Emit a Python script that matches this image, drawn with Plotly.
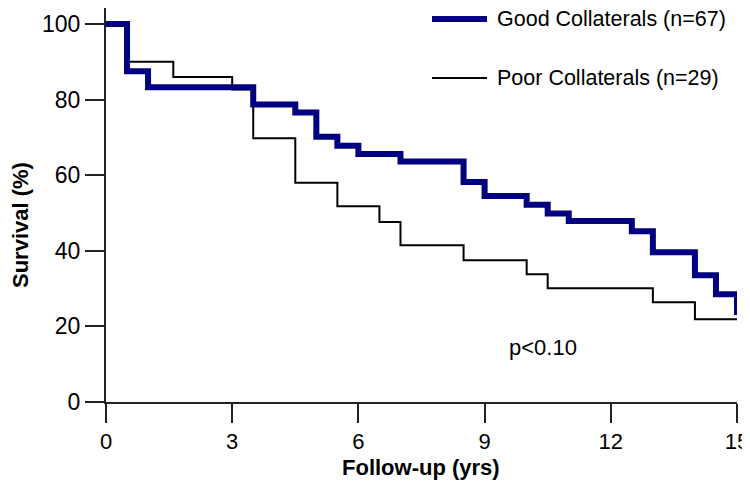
import plotly.graph_objects as go

# Kaplan-Meier step data
good_t = [0, 0.5, 1.0, 3.5, 4.5, 5.0, 5.5, 6.0, 7.0, 8.5, 9.0, 10.0, 10.5, 11.0, 12.5, 13.0, 14.0, 14.5, 15.0]
good_s = [100, 87.5, 83.3, 78.7, 76.6, 70.2, 67.8, 65.6, 63.6, 58.2, 54.5, 52.2, 49.9, 47.9, 45.2, 39.6, 33.5, 28.5, 23.0]

poor_t = [0, 0.5, 1.6, 3.0, 3.5, 4.5, 5.5, 6.5, 7.0, 8.5, 10.0, 10.5, 13.0, 14.0, 15.0]
poor_s = [100, 90.0, 86.0, 82.7, 69.8, 58.0, 51.8, 47.6, 41.5, 37.5, 33.8, 30.1, 26.4, 21.9, 21.9]

x_ticks = [0, 3, 6, 9, 12, 15]
y_ticks = [0, 20, 40, 60, 80, 100]

series_names = ["Good Collaterals (n=67)", "Poor Collaterals (n=29)"]
p_text = "p<0.10"

FONT = "Liberation Sans, Arial, sans-serif"
NAVY = "#000080"

# page body has an 8px margin: the figure is placed at (8, 8) in the window
OFF = 8
W, H = 750 - OFF, 487 - OFF
L, R, T, B = 106 - OFF, 13, 0, 85
pw, ph = W - L - R, H - T - B

def px(x):  # screen x -> paper
    return (x - OFF - L) / pw

def py(y):  # screen y -> paper
    return (H - B - (y - OFF)) / ph

fig = go.Figure()
fig.add_trace(go.Scatter(x=poor_t, y=poor_s, mode="lines", line=dict(shape="hv", color="black", width=2),
                         name=series_names[1], showlegend=False))
fig.add_trace(go.Scatter(x=good_t, y=good_s, mode="lines", line=dict(shape="hv", color=NAVY, width=6),
                         name=series_names[0], showlegend=False))

# manual legend
legend_rows = [(series_names[0], NAVY, 6, 19), (series_names[1], "black", 2, 78)]
for name, col, w, yy in legend_rows:
    fig.add_shape(type="line", xref="paper", yref="paper", x0=px(432), x1=px(487), y0=py(yy), y1=py(yy),
                  line=dict(color=col, width=w))
    fig.add_annotation(xref="paper", yref="paper", x=px(496), y=py(yy), text=name, showarrow=False,
                       xanchor="left", yanchor="middle", borderpad=0,
                       font=dict(family=FONT, size=21.5, color="black"))

fig.add_annotation(x=10.4, y=14.5, text=p_text, showarrow=False, xanchor="center", yanchor="middle",
                   font=dict(family=FONT, size=22, color="black"))

# axis titles
fig.add_annotation(xref="paper", yref="paper", x=px(421), y=py(467), text="<b>Follow-up (yrs)</b>",
                   showarrow=False, xanchor="center", yanchor="middle", font=dict(family=FONT, size=22, color="black"))
fig.add_annotation(xref="paper", yref="paper", x=px(21), y=py(225), text="<b>Survival (%)</b>", textangle=-90,
                   showarrow=False, xanchor="center", yanchor="middle", font=dict(family=FONT, size=22, color="black"))

y_top = (402 - OFF) / 3.78

fig.update_layout(
    width=W, height=H,
    margin=dict(l=L, r=R, t=T, b=B, autoexpand=False),
    plot_bgcolor="white", paper_bgcolor="white",
    showlegend=False,
    font=dict(family=FONT, size=22, color="black"),
)
fig.update_xaxes(range=[0, 15], tickvals=x_ticks, showline=True, linecolor="#222", linewidth=2,
                 ticks="outside", ticklen=19, tickwidth=2, tickcolor="#222", showgrid=False, zeroline=False,
                 tickfont=dict(family=FONT, size=22), automargin=False)
fig.update_yaxes(range=[0, y_top], tickvals=y_ticks, showline=True, linecolor="#222", linewidth=2,
                 ticks="outside", ticklen=19, tickwidth=2, tickcolor="#222", showgrid=False, zeroline=False,
                 tickfont=dict(family=FONT, size=23), automargin=False)

fig.write_html("out.html")
